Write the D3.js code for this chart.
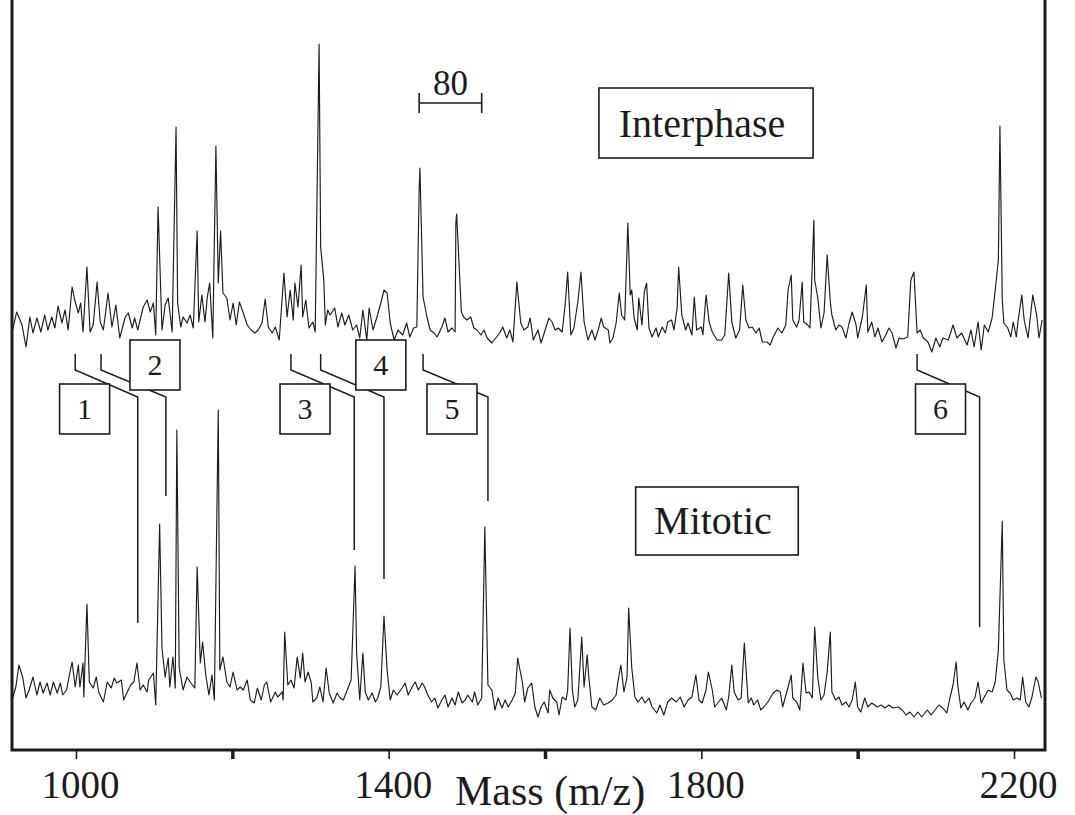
<!DOCTYPE html>
<html><head><meta charset="utf-8">
<script src="https://cdn.jsdelivr.net/npm/d3@7"></script>
<style>body{margin:0;background:#fff}svg{display:block}</style>
</head><body><svg id="c" width="1075" height="815"></svg>
<script>
// ---- data: [mass (m/z), relative intensity] ----
const interphase = [[919,20],[924,38],[931,25],[936,3],[941,33],[945,17],[950,32],[955,18],[960,35],[964,20],[969,33],[973,22],[977,44],[982,27],[986,40],[990,20],[995,63],[999,48],[1003,37],[1006,47],[1009,18],[1014,83],[1018,18],[1022,25],[1027,68],[1031,28],[1035,20],[1041,57],[1046,23],[1051,45],[1056,12],[1063,33],[1067,37],[1072,22],[1075,32],[1079,20],[1086,43],[1091,50],[1095,38],[1099,47],[1102,15],[1105,143],[1110,20],[1114,45],[1118,52],[1123,18],[1128,223],[1130,47],[1134,23],[1137,33],[1142,27],[1146,35],[1150,22],[1155,119],[1157,28],[1161,55],[1165,28],[1168,53],[1171,67],[1175,12],[1179,204],[1182,67],[1185,119],[1188,57],[1193,52],[1197,30],[1201,47],[1205,25],[1209,48],[1214,37],[1219,25],[1224,20],[1229,17],[1233,20],[1238,27],[1242,51],[1246,23],[1251,17],[1255,23],[1260,10],[1266,77],[1270,33],[1274,60],[1278,30],[1280,67],[1284,43],[1288,85],[1290,33],[1294,50],[1298,22],[1303,28],[1306,18],[1311,306],[1313,103],[1317,70],[1319,25],[1322,40],[1325,35],[1331,42],[1335,23],[1340,37],[1344,25],[1349,35],[1354,20],[1359,25],[1363,12],[1367,40],[1372,10],[1375,42],[1380,20],[1385,33],[1390,47],[1394,60],[1398,57],[1402,27],[1407,10],[1412,20],[1418,15],[1423,27],[1427,13],[1432,22],[1436,23],[1439,160],[1440,182],[1444,53],[1449,33],[1453,20],[1458,17],[1462,13],[1468,23],[1472,32],[1476,18],[1481,22],[1485,18],[1486,128],[1487,136],[1493,38],[1496,33],[1500,30],[1505,33],[1509,22],[1513,20],[1518,15],[1522,20],[1526,12],[1532,7],[1537,12],[1542,17],[1546,23],[1551,12],[1555,20],[1559,8],[1564,68],[1569,27],[1573,20],[1578,23],[1581,32],[1585,10],[1591,20],[1595,7],[1599,17],[1605,32],[1609,28],[1613,20],[1617,22],[1622,18],[1626,47],[1629,78],[1633,15],[1637,22],[1642,48],[1646,78],[1650,28],[1655,10],[1660,20],[1664,10],[1668,20],[1672,32],[1675,23],[1681,20],[1683,7],[1687,12],[1691,27],[1695,57],[1698,35],[1702,30],[1706,127],[1709,55],[1711,60],[1714,32],[1718,20],[1720,52],[1724,25],[1727,58],[1730,67],[1733,22],[1737,13],[1742,22],[1745,13],[1750,23],[1754,17],[1757,28],[1762,30],[1765,20],[1769,42],[1771,83],[1775,35],[1780,20],[1783,27],[1788,15],[1791,53],[1794,20],[1800,23],[1802,15],[1806,55],[1810,28],[1814,18],[1820,10],[1826,10],[1830,15],[1835,77],[1839,28],[1844,12],[1849,20],[1853,65],[1857,30],[1861,22],[1865,23],[1870,17],[1874,22],[1878,8],[1884,8],[1888,5],[1892,13],[1898,22],[1903,17],[1908,25],[1911,60],[1915,75],[1917,30],[1922,23],[1925,30],[1929,68],[1931,28],[1936,25],[1939,22],[1944,130],[1945,70],[1949,52],[1953,22],[1957,37],[1961,95],[1965,48],[1967,35],[1972,20],[1976,25],[1980,23],[1985,12],[1989,27],[1993,38],[1998,25],[2000,12],[2006,33],[2011,65],[2013,18],[2018,28],[2022,13],[2026,22],[2031,8],[2036,15],[2040,22],[2044,17],[2049,2],[2053,12],[2058,11],[2064,13],[2068,70],[2072,78],[2076,17],[2080,20],[2084,12],[2090,8],[2095,-2],[2100,12],[2105,3],[2109,12],[2116,10],[2122,25],[2127,12],[2133,17],[2140,5],[2145,20],[2149,3],[2154,28],[2158,0],[2162,25],[2167,18],[2172,32],[2176,60],[2180,90],[2182,224],[2185,50],[2187,27],[2192,22],[2196,13],[2199,28],[2203,13],[2205,28],[2210,55],[2213,30],[2218,12],[2224,55],[2229,35],[2232,12],[2236,30]];

const mitotic = [[919,12],[923,23],[927,45],[932,32],[936,12],[940,20],[945,33],[950,15],[954,28],[958,17],[963,27],[967,15],[971,28],[976,17],[980,27],[983,15],[988,20],[991,33],[995,48],[999,23],[1003,45],[1005,23],[1009,47],[1010,13],[1014,106],[1017,28],[1022,22],[1026,33],[1029,18],[1035,8],[1040,28],[1045,22],[1049,32],[1052,27],[1058,30],[1061,10],[1065,17],[1070,25],[1074,28],[1078,47],[1082,20],[1086,25],[1091,18],[1093,30],[1099,37],[1102,5],[1107,186],[1110,62],[1114,33],[1118,52],[1120,23],[1124,53],[1127,22],[1129,280],[1132,42],[1137,20],[1142,33],[1147,27],[1152,22],[1155,143],[1159,47],[1162,68],[1166,35],[1170,15],[1174,35],[1177,10],[1182,300],[1184,40],[1188,53],[1193,28],[1197,23],[1201,38],[1206,20],[1210,23],[1214,20],[1219,30],[1223,10],[1228,7],[1232,22],[1237,10],[1241,25],[1244,28],[1249,8],[1255,18],[1258,13],[1264,18],[1265,10],[1267,78],[1271,25],[1275,30],[1279,22],[1283,53],[1287,32],[1290,57],[1293,28],[1297,38],[1301,27],[1303,8],[1308,12],[1312,23],[1316,8],[1320,42],[1324,17],[1329,7],[1334,17],[1338,12],[1342,10],[1347,20],[1352,30],[1357,144],[1359,57],[1363,10],[1367,57],[1370,18],[1374,10],[1379,17],[1383,8],[1386,12],[1390,23],[1394,94],[1398,40],[1402,10],[1406,20],[1411,15],[1417,22],[1421,27],[1425,15],[1430,23],[1434,28],[1438,20],[1443,27],[1446,23],[1450,15],[1455,8],[1459,12],[1463,2],[1468,10],[1472,15],[1476,3],[1481,12],[1485,5],[1489,18],[1494,7],[1498,10],[1501,15],[1507,8],[1510,18],[1514,5],[1519,12],[1523,183],[1527,25],[1532,20],[1536,0],[1540,12],[1545,2],[1549,10],[1553,3],[1558,10],[1562,17],[1565,52],[1571,28],[1574,8],[1578,22],[1583,27],[1587,3],[1591,-7],[1595,3],[1599,8],[1604,-3],[1606,20],[1610,12],[1615,8],[1618,-5],[1622,13],[1627,10],[1629,20],[1632,82],[1635,20],[1638,3],[1642,10],[1647,73],[1650,23],[1654,55],[1656,33],[1660,3],[1665,0],[1670,12],[1675,5],[1681,7],[1686,10],[1691,15],[1693,27],[1697,45],[1701,18],[1705,33],[1707,102],[1711,42],[1715,13],[1719,8],[1724,13],[1728,7],[1733,12],[1737,3],[1743,-3],[1747,5],[1752,-5],[1757,8],[1762,12],[1768,8],[1773,13],[1778,3],[1783,10],[1788,13],[1793,35],[1797,10],[1801,7],[1806,20],[1809,38],[1814,20],[1817,3],[1821,7],[1826,12],[1832,0],[1835,13],[1839,45],[1842,18],[1847,10],[1851,12],[1855,67],[1860,7],[1864,12],[1867,5],[1872,10],[1876,0],[1880,3],[1885,8],[1892,17],[1897,20],[1901,18],[1904,3],[1910,20],[1915,35],[1917,12],[1922,8],[1926,0],[1930,47],[1934,17],[1938,18],[1942,12],[1945,83],[1949,32],[1953,10],[1957,15],[1961,38],[1965,78],[1967,18],[1972,10],[1976,13],[1980,5],[1985,8],[1989,3],[1993,10],[1997,28],[2000,3],[2004,-2],[2009,12],[2013,3],[2018,7],[2025,3],[2030,5],[2035,2],[2040,5],[2045,2],[2052,3],[2057,0],[2062,-5],[2067,-2],[2072,-7],[2077,-2],[2082,-7],[2089,0],[2094,-5],[2099,0],[2104,5],[2109,2],[2114,-3],[2118,12],[2122,25],[2126,48],[2128,25],[2132,2],[2136,8],[2141,0],[2145,7],[2150,12],[2154,28],[2158,7],[2162,13],[2167,20],[2172,18],[2176,28],[2180,60],[2185,189],[2187,50],[2191,20],[2195,17],[2199,10],[2204,12],[2208,10],[2211,33],[2215,8],[2219,3],[2223,13],[2228,33],[2231,28],[2235,12]];

const tickValues = [1000,1200,1400,1600,1800,2000,2200];
const tickLabels = ["1000","","1400","","1800","","2200"];
const axisTitle = "Mass (m/z)";
const seriesNames = ["Interphase","Mitotic"];

// shifted-peak annotations
const peakLabels   = ["1","2","3","4","5","6"];
const peakFrom     = [999,1032,1275,1313,1444,2076];   // interphase m/z
const peakTo       = [1079,1115,1356,1394,1527,2156];  // mitotic m/z
const peakLineTop  = [87,214,160,131,209,83];          // mitotic-scale intensity where line ends
const labelMass    = [1011,1101,1293,1390,1481,2106];
const labelRow     = [1,0,1,0,1,1];

const scaleBarFrom = 1439, scaleBarWidth = 80, scaleBarLabel = "80";

// ---- drawing ----
const svg = d3.select("#c");
const serif = "'Liberation Serif','Times New Roman',serif";
const ink = "#1c1c1c";

const x = d3.scaleLinear().domain([1000,2200]).range([76,1014]);
const yTop = d3.scaleLinear().domain([0,350]).range([350,0]);
const yBot = d3.scaleLinear().domain([0,350]).range([710,360]);

const line = y => d3.line().x(d=>x(d[0])).y(d=>y(d[1]));

svg.append("path").datum(interphase).attr("d", line(yTop))
  .attr("fill","none").attr("stroke",ink).attr("stroke-width",1.15).attr("stroke-linejoin","round");
svg.append("path").datum(mitotic).attr("d", line(yBot))
  .attr("fill","none").attr("stroke",ink).attr("stroke-width",1.15).attr("stroke-linejoin","round");

// frame
svg.append("path").attr("d", `M12,0V750H1045V0`).attr("fill","none")
  .attr("stroke",ink).attr("stroke-width",3);

// axis
const axis = d3.axisBottom(x).tickValues(tickValues).tickSize(9)
  .tickFormat((d,i)=>tickLabels[i]);
const ag = svg.append("g").attr("transform","translate(0,750)").call(axis);
ag.select(".domain").remove();
ag.selectAll(".tick line").attr("stroke",ink)
  .attr("stroke-width",(d,i)=> tickLabels[i] ? 1.6 : 3.5);
ag.selectAll(".tick text").attr("fill",ink).attr("font-family",serif)
  .attr("font-size",39).attr("y",48).attr("dy",0).attr("dx",4);
svg.append("text").attr("x",455).attr("y",805).attr("font-family",serif)
  .attr("font-size",42).attr("fill",ink).text(axisTitle);

// connectors
const yA = yTop(-4), yB = yTop(-20), yC = yTop(-47);
peakLabels.forEach((lab,i)=>{
  const x0 = x(peakFrom[i]), x1 = x(peakTo[i]);
  svg.append("path").attr("d",`M${x0},${yA}V${yB}L${x1},${yC}V${yBot(peakLineTop[i])}`)
    .attr("fill","none").attr("stroke",ink).attr("stroke-width",1.5);
});
// label boxes
const rowTop = [340,384], bw = 50, bh = 50;
peakLabels.forEach((lab,i)=>{
  const cx = x(labelMass[i]), top = rowTop[labelRow[i]];
  svg.append("rect").attr("x",cx-bw/2).attr("y",top).attr("width",bw).attr("height",bh)
    .attr("fill","#fff").attr("stroke",ink).attr("stroke-width",1.6);
  svg.append("text").attr("x",cx).attr("y",top+bh/2+10).attr("text-anchor","middle")
    .attr("font-family",serif).attr("font-size",30).attr("fill",ink).text(lab);
});

// scale bar
const sb0 = x(scaleBarFrom), sb1 = x(scaleBarFrom+scaleBarWidth);
svg.append("path").attr("d",`M${sb0},93V113M${sb0},103H${sb1}M${sb1},93V113`)
  .attr("fill","none").attr("stroke",ink).attr("stroke-width",1.6);
svg.append("text").attr("x",(sb0+sb1)/2).attr("y",95).attr("text-anchor","middle")
  .attr("font-family",serif).attr("font-size",35).attr("fill",ink).text(scaleBarLabel);

// series name boxes
const nameBoxes = [{m0:1669,m1:1943,y0:88,y1:158,base:137},{m0:1716,m1:1924,y0:487,y1:555,base:534}];
nameBoxes.forEach((b,i)=>{
  const x0=x(b.m0), x1=x(b.m1);
  svg.append("rect").attr("x",x0).attr("y",b.y0).attr("width",x1-x0).attr("height",b.y1-b.y0)
    .attr("fill","#fff").attr("stroke",ink).attr("stroke-width",1.6);
  svg.append("text").attr("x",(x0+x1)/2-4).attr("y",b.base).attr("text-anchor","middle")
    .attr("font-family",serif).attr("font-size",40).attr("fill",ink).text(seriesNames[i]);
});
</script></body></html>
